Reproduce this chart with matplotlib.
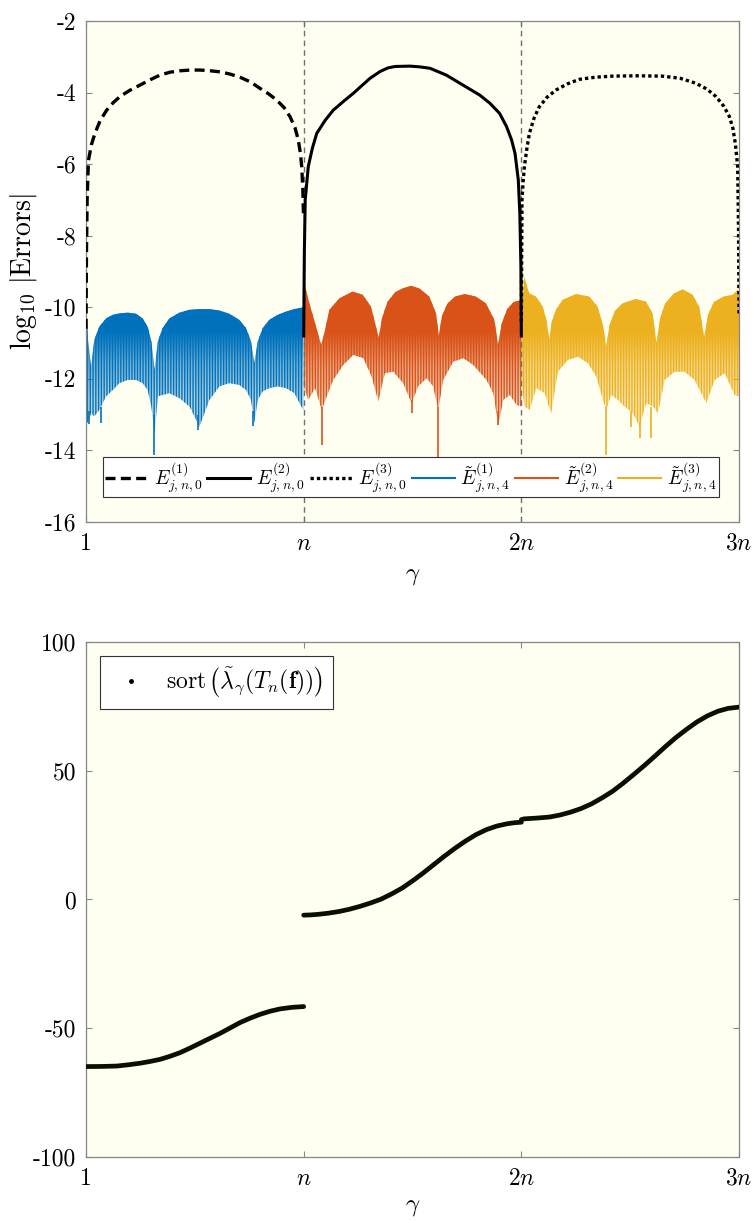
import numpy as np
import matplotlib
matplotlib.use("Agg")
import matplotlib.pyplot as plt
from matplotlib.lines import Line2D
from matplotlib.colors import to_rgba

plt.rcParams['font.family'] = 'serif'
plt.rcParams['font.serif'] = ['cmr10', 'DejaVu Serif']
plt.rcParams['mathtext.fontset'] = 'cm'
plt.rcParams['axes.unicode_minus'] = False
plt.rcParams['axes.formatter.use_mathtext'] = True
plt.rcParams['hatch.linewidth'] = 1.0

# ---------------- data (gamma expressed in units of n) ----------------
xtick_pos = [0, 1, 2, 3]
xtick_lab = ['1', r'$n$', r'$2n$', r'$3n$']
top_yticks = [-2, -4, -6, -8, -10, -12, -14, -16]
bot_yticks = [100, 50, 0, -50, -100]

# log10 errors E^{(k)}_{j,n,0}
e1_t = [0.0, 0.002, 0.005, 0.011, 0.025, 0.041, 0.065, 0.095, 0.125, 0.156, 0.200, 0.248,
        0.295, 0.340, 0.386, 0.432, 0.478, 0.524, 0.570, 0.616, 0.660, 0.707, 0.755,
        0.799, 0.840, 0.876, 0.910, 0.937, 0.960, 0.975, 0.985, 0.991, 0.996, 0.999]
e1_v = [-10.6, -8.5, -7.0, -5.9, -5.45, -5.14, -4.78, -4.49, -4.28, -4.11, -3.94, -3.79,
        -3.64, -3.51, -3.43, -3.39, -3.37, -3.37, -3.39, -3.42, -3.48, -3.57, -3.70,
        -3.88, -4.04, -4.21, -4.42, -4.67, -4.98, -5.32, -5.70, -6.07, -6.7, -7.4]
e2_t = [1.0, 1.003, 1.007, 1.021, 1.040, 1.060, 1.098, 1.136, 1.182, 1.228, 1.259, 1.305,
        1.351, 1.387, 1.420, 1.488, 1.532, 1.580, 1.655, 1.732, 1.809, 1.856, 1.900,
        1.932, 1.955, 1.971, 1.986, 1.993, 1.998, 2.0]
e2_v = [-10.8, -8.5, -7.0, -6.07, -5.55, -5.14, -4.78, -4.49, -4.25, -4.02, -3.85, -3.60,
        -3.41, -3.31, -3.27, -3.26, -3.28, -3.32, -3.51, -3.79, -4.07, -4.30, -4.58,
        -4.95, -5.32, -5.70, -6.44, -7.37, -8.86, -10.8]
e3_t = [2.0, 2.003, 2.008, 2.014, 2.025, 2.037, 2.058, 2.082, 2.118, 2.159, 2.210, 2.266,
        2.340, 2.418, 2.530, 2.648, 2.730, 2.802, 2.852, 2.894, 2.930, 2.956, 2.972,
        2.983, 2.994, 2.998, 3.0]
e3_v = [-10.4, -7.0, -6.5, -6.07, -5.58, -5.14, -4.72, -4.40, -4.13, -3.93, -3.76, -3.63,
        -3.57, -3.54, -3.53, -3.54, -3.60, -3.74, -3.90, -4.11, -4.38, -4.67, -5.00,
        -5.42, -6.07, -7.9, -10.2]

# tilde E^{(1)} (blue): upper and lower envelopes of the oscillating errors
b_up_t = [0.000, 0.009, 0.023, 0.038, 0.061, 0.092, 0.123, 0.153, 0.191, 0.230, 0.260,
          0.283, 0.300, 0.315, 0.330, 0.352, 0.383, 0.429, 0.475, 0.521, 0.567, 0.613,
          0.658, 0.704, 0.735, 0.758, 0.773, 0.789, 0.812, 0.842, 0.881, 0.919, 0.957, 0.998]
b_up_v = [-9.84, -10.91, -11.66, -10.91, -10.54, -10.31, -10.21, -10.17, -10.15, -10.18, -10.31,
          -10.54, -10.95, -11.75, -10.95, -10.58, -10.31, -10.15, -10.07, -10.05, -10.05, -10.09,
          -10.18, -10.35, -10.58, -10.95, -11.56, -10.95, -10.58, -10.35, -10.21, -10.12, -10.05, -10.00]
b_lo_t = b_up_t
b_lo_v = [-13.15, -13.24, -12.96, -13.05, -12.87, -12.49, -12.31, -12.12, -12.03, -12.03, -12.12,
          -12.31, -12.77, -13.52, -12.49, -12.45, -12.40, -12.54, -12.77, -13.33, -12.59, -12.21,
          -12.12, -12.17, -12.31, -12.59, -13.24, -12.59, -12.35, -12.26, -12.21, -12.26, -12.40, -12.87]
b_spk_t = [0.015, 0.069, 0.314, 0.513, 0.766]
b_spk_lo = [-13.25, -13.24, -14.12, -13.42, -13.33]
b_spk_hi = [-12.9, -12.8, -13.0, -13.0, -12.9]

# tilde E^{(2)} (orange)
o_up_t = [1.000, 1.003, 1.026, 1.057, 1.080, 1.095, 1.118, 1.164, 1.225, 1.271, 1.309, 1.332,
          1.345, 1.360, 1.385, 1.420, 1.455, 1.493, 1.531, 1.577, 1.608, 1.621, 1.635, 1.660, 1.695,
          1.740, 1.791, 1.837, 1.876, 1.893, 1.910, 1.935, 1.965, 2.000]
o_up_v = [-10.5, -9.33, -9.89, -10.54, -11.05, -10.72, -10.07, -9.75, -9.56, -9.65, -9.98, -10.54,
          -10.85, -10.30, -9.85, -9.58, -9.47, -9.40, -9.47, -9.70, -10.17, -10.80, -10.25, -9.90,
          -9.70, -9.63, -9.70, -9.89, -10.35, -11.05, -10.45, -10.05, -9.85, -9.80]
o_lo_t = [1.000, 1.006, 1.021, 1.052, 1.083, 1.106, 1.136, 1.182, 1.228, 1.274, 1.312, 1.343,
          1.373, 1.412, 1.457, 1.496, 1.526, 1.565, 1.595, 1.618, 1.641, 1.687, 1.733, 1.779,
          1.840, 1.871, 1.894, 1.917, 1.947, 1.978, 2.000]
o_lo_v = [-12.2, -12.31, -12.59, -12.26, -12.87, -12.49, -12.03, -11.61, -11.33, -11.42, -11.93,
          -12.63, -11.84, -11.80, -12.12, -12.68, -12.21, -11.98, -12.21, -12.87, -12.03, -11.52,
          -11.42, -11.61, -12.03, -12.40, -13.29, -12.59, -12.45, -12.73, -12.77]
o_spk_t = [1.083, 1.496, 1.618, 1.894]
o_spk_lo = [-13.84, -12.95, -14.26, -13.29]
o_spk_hi = [-12.8, -12.6, -12.8, -12.9]

# tilde E^{(3)} (yellow)
y_up_t = [2.000, 2.013, 2.036, 2.067, 2.098, 2.117, 2.128, 2.140, 2.159, 2.190, 2.251, 2.312,
          2.350, 2.375, 2.390, 2.405, 2.430, 2.465, 2.526, 2.572, 2.603, 2.621, 2.638, 2.660,
          2.700, 2.741, 2.787, 2.818, 2.840, 2.858, 2.885, 2.930, 2.971, 2.994, 3.000]
y_up_v = [-10.8, -9.14, -9.61, -9.70, -9.98, -10.40, -10.91, -10.40, -10.07, -9.79, -9.63, -9.70,
          -9.98, -10.50, -11.10, -10.50, -10.10, -9.89, -9.77, -9.84, -10.17, -11.00, -10.30,
          -9.90, -9.62, -9.50, -9.65, -10.00, -10.85, -10.20, -9.85, -9.70, -9.65, -9.51, -9.60]
y_lo_t = [2.000, 2.015, 2.038, 2.069, 2.107, 2.137, 2.168, 2.214, 2.260, 2.306, 2.344, 2.375,
          2.390, 2.413, 2.444, 2.474, 2.513, 2.543, 2.574, 2.605, 2.628, 2.658, 2.704, 2.750,
          2.796, 2.834, 2.850, 2.888, 2.934, 2.980, 3.000]
y_lo_v = [-12.12, -12.77, -12.87, -12.26, -12.40, -12.96, -11.80, -11.47, -11.38, -11.56, -11.93,
          -12.59, -12.87, -12.45, -12.59, -12.77, -12.96, -13.33, -12.68, -12.77, -12.96, -12.03,
          -11.80, -11.80, -12.03, -12.49, -12.68, -12.03, -11.84, -12.45, -12.49]
y_spk_t = [2.390, 2.505, 2.543, 2.598]
y_spk_lo = [-14.12, -13.35, -13.66, -13.66]
y_spk_hi = [-12.8, -12.9, -13.2, -12.8]

# sorted eigenvalue approximations
l1_t = [0.0, 0.07, 0.141, 0.195, 0.248, 0.295, 0.340, 0.386, 0.432, 0.478, 0.524, 0.570,
        0.616, 0.662, 0.708, 0.754, 0.800, 0.846, 0.892, 0.946, 1.0]
l1_v = [-64.9, -64.85, -64.7, -64.2, -63.6, -62.9, -62.1, -60.9, -59.5, -57.7, -55.8, -53.9,
        -52.0, -49.9, -47.8, -46.1, -44.6, -43.4, -42.5, -41.9, -41.6]
l2_t = [1.0, 1.032, 1.064, 1.112, 1.161, 1.210, 1.258, 1.306, 1.355, 1.403, 1.452, 1.500,
        1.548, 1.597, 1.645, 1.694, 1.742, 1.790, 1.839, 1.887, 1.935, 1.968, 2.0]
l2_v = [-6.1, -6.0, -5.8, -5.35, -4.7, -3.8, -2.7, -1.4, 0.1, 2.1, 4.4, 7.2,
        10.2, 13.5, 16.7, 19.8, 22.6, 25.1, 27.1, 28.5, 29.4, 29.8, 30.0]
l3_t = [2.0, 2.013, 2.07, 2.129, 2.178, 2.226, 2.274, 2.322, 2.370, 2.419, 2.467, 2.516,
        2.565, 2.613, 2.661, 2.709, 2.758, 2.806, 2.855, 2.903, 2.95, 3.0]
l3_v = [31.0, 31.3, 31.6, 32.0, 32.8, 33.9, 35.3, 37.1, 39.4, 42.0, 45.1, 48.5,
        52.0, 55.6, 59.3, 62.8, 66.0, 68.9, 71.3, 73.1, 74.2, 74.7]

BLUE, ORANGE, YELLOW = '#0072BD', '#D95319', '#EDB120'
BG = '#fefef1'
SPINE = '#868686'

fig = plt.figure(figsize=(7.54, 12.23), dpi=100)
ax1 = fig.add_axes([0.1141, 0.5732, 0.8660, 0.4096])
ax2 = fig.add_axes([0.1141, 0.0540, 0.8660, 0.4211])


def style(ax):
    ax.set_facecolor(BG)
    for s in ax.spines.values():
        s.set_color(SPINE)
        s.set_linewidth(0.9)
    ax.tick_params(direction='in', length=4, width=0.8, color=SPINE,
                   top=True, right=True, labelsize=17, pad=7)
    ax.set_xlim(0, 3)
    ax.set_xticks(xtick_pos)
    ax.set_xticklabels(xtick_lab)
    ax.tick_params(axis='x', pad=20)
    for lbl in ax.get_xticklabels():
        lbl.set_va('baseline')


# vertical shading profile of the dense oscillation bands (style only)
GRAD_Y = np.linspace(-14.5, -9.0, 221)
GRAD_A = np.interp(GRAD_Y, [-14.5, -12.6, -11.6, -10.7, -9.0], [0.28, 0.30, 0.55, 1.0, 1.0])


def band(ax, tu, vu, tl, vl, color, sp_t, sp_lo, sp_hi):
    xs = np.concatenate([tu, tl[::-1]])
    ys = np.concatenate([vu, vl[::-1]])
    poly, = ax.fill(xs, ys, facecolor='none', edgecolor=color,
                    hatch='|' * 6, linewidth=0, zorder=2.1)
    rgba = np.zeros((len(GRAD_Y), 1, 4))
    rgba[:, 0, :3] = to_rgba(color)[:3]
    rgba[:, 0, 3] = GRAD_A
    im = ax.imshow(rgba, extent=(min(tu), max(tu), GRAD_Y[0], GRAD_Y[-1]), origin='lower',
                   aspect='auto', interpolation='bilinear', zorder=2)
    im.set_clip_path(poly)
    ax.vlines(sp_t, sp_lo, sp_hi, color=color, lw=1.2, zorder=2.2)


# ---------------- top panel ----------------
style(ax1)
band(ax1, b_up_t, b_up_v, b_lo_t, b_lo_v, BLUE, b_spk_t, b_spk_lo, b_spk_hi)
band(ax1, o_up_t, o_up_v, o_lo_t, o_lo_v, ORANGE, o_spk_t, o_spk_lo, o_spk_hi)
band(ax1, y_up_t, y_up_v, y_lo_t, y_lo_v, YELLOW, y_spk_t, y_spk_lo, y_spk_hi)

for xv in [1, 2]:
    ax1.axvline(xv, color='#707070', lw=1.0, dashes=(4, 3), zorder=2.5)

DASH = (3.0, 1.6)
DOT = (1.0, 0.9)
ax1.plot(e1_t, e1_v, color='black', lw=2.4, dashes=DASH, zorder=3)
ax1.plot(e2_t, e2_v, color='black', lw=2.2, zorder=3)
ax1.plot(e3_t, e3_v, color='black', lw=2.4, dashes=DOT, zorder=3)

ax1.set_xlim(0, 3)
ax1.set_ylim(-16, -2)
ax1.set_yticks(top_yticks)
ax1.set_yticklabels([str(v) for v in top_yticks])
ax1.set_ylabel(r'$\log_{10}\,|\mathrm{Errors}|$', fontsize=20)
ax1.yaxis.set_label_coords(-0.072, 0.5)
ax1.set_xlabel(r'$\gamma$', fontsize=18)
ax1.xaxis.set_label_coords(0.5, -0.085)

handles = [
    Line2D([], [], color='black', lw=2.4, dashes=DASH),
    Line2D([], [], color='black', lw=2.2),
    Line2D([], [], color='black', lw=2.4, dashes=DOT),
    Line2D([], [], color=BLUE, lw=1.5),
    Line2D([], [], color=ORANGE, lw=1.5),
    Line2D([], [], color=YELLOW, lw=1.5),
]
labels = [r'$E^{(1)}_{j,n,0}$', r'$E^{(2)}_{j,n,0}$', r'$E^{(3)}_{j,n,0}$',
          r'$\tilde{E}^{(1)}_{j,n,4}$', r'$\tilde{E}^{(2)}_{j,n,4}$', r'$\tilde{E}^{(3)}_{j,n,4}$']
leg = ax1.legend(handles, labels, ncol=6, loc='lower left', bbox_to_anchor=(0.026, 0.05),
                 borderaxespad=0, fontsize=14, handlelength=2.2, handletextpad=0.3,
                 columnspacing=0.25, borderpad=0.12, fancybox=False, framealpha=1,
                 edgecolor='#333333', facecolor='white')
leg.get_frame().set_linewidth(0.8)
leg.set_zorder(5)

# ---------------- bottom panel ----------------
style(ax2)
for tt, vv in [(l1_t, l1_v), (l2_t, l2_v), (l3_t, l3_v)]:
    ax2.plot(tt, vv, color='#0a0f00', lw=3.4, solid_capstyle='round',
             solid_joinstyle='round', zorder=3)
ax2.set_ylim(-100, 100)
ax2.set_yticks(bot_yticks)
ax2.set_yticklabels([str(v) for v in bot_yticks])
ax2.set_xlabel(r'$\gamma$', fontsize=18)
ax2.xaxis.set_label_coords(0.5, -0.075)
h2 = [Line2D([], [], ls='none', marker='.', color='black', markersize=5)]
leg2 = ax2.legend(h2, [r'sort$\,\left(\tilde{\lambda}_\gamma(T_n(\mathbf{f}))\right)$'],
                  loc='upper left', bbox_to_anchor=(0.0214, 0.973), borderaxespad=0,
                  fontsize=17, handlelength=1.8, handletextpad=0.6, borderpad=0.4,
                  fancybox=False, framealpha=1, edgecolor='#333333', facecolor='white')
leg2.get_frame().set_linewidth(0.8)

fig.savefig('out.png', dpi=100, facecolor='white')
